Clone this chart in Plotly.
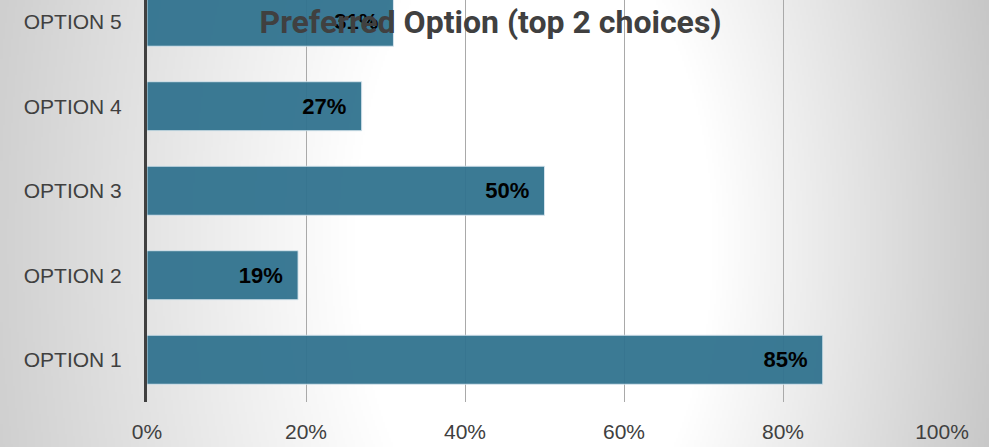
import base64
import struct
import zlib

import numpy as np
import plotly.graph_objects as go

# ---- data -------------------------------------------------------------
categories = ["OPTION 1", "OPTION 2", "OPTION 3", "OPTION 4", "OPTION 5"]
shares = [85, 19, 50, 27, 31]          # percent of respondents
x_ticks = [0, 20, 40, 60, 80, 100]
x_tick_labels = ["0%", "20%", "40%", "60%", "80%", "100%"]
title_text = "Preferred Option (top 2 choices)"

W, H = 989, 447


# ---- soft white-centred grey backdrop, encoded as a PNG ----------------
def backdrop_png(w, h, scale=2):
    pw, ph = w // scale, h // scale
    yy, xx = np.mgrid[0:ph, 0:pw].astype(float)
    xx *= scale
    yy *= scale
    cx, cy = 532.0, 240.0
    dx = xx - cx
    dy = (yy - cy) * 0.55
    d = np.sqrt(dx ** 2 + dy ** 2)
    slope = np.where(dx < 0, 0.13, 0.19)
    v = 255.0 - np.clip(d - 180.0, 0, None) * slope
    v = np.clip(v, 190, 255).astype(np.uint8)
    rows = b"".join(b"\x00" + bytes(np.repeat(r, 3)) for r in v)

    def chunk(tag, data):
        c = tag + data
        return struct.pack(">I", len(data)) + c + struct.pack(">I", zlib.crc32(c) & 0xFFFFFFFF)

    png = b"\x89PNG\r\n\x1a\n"
    png += chunk(b"IHDR", struct.pack(">IIBBBBB", pw, ph, 8, 2, 0, 0, 0))
    png += chunk(b"IDAT", zlib.compress(rows, 9))
    png += chunk(b"IEND", b"")
    return "data:image/png;base64," + base64.b64encode(png).decode()


# ---- figure -----------------------------------------------------------
ML, MR, MT, MB = 147, 47, 0, 45
PW, PH = W - ML - MR, H - MT - MB
bar_color = "#31738f"
tick_font = dict(family="Liberation Sans, Arial, sans-serif", size=21, color="#404040")

fig = go.Figure()
fig.add_trace(
    go.Bar(
        y=categories,
        x=shares,
        orientation="h",
        width=0.58,
        marker=dict(color=bar_color, opacity=0.95,
                    line=dict(color="rgba(215,230,238,0.9)", width=1)),
        # value label at the inside end of each bar, padded from the bar end
        texttemplate="<b>%{x}%</b>\u00a0\u00a0",
        textposition="inside",
        insidetextanchor="end",
        textangle=0,
        constraintext="none",
        insidetextfont=dict(family="Liberation Sans, Arial, sans-serif", size=22, color="#000000"),
        hoverinfo="skip",
    )
)

fig.update_layout(
    width=W, height=H,
    margin=dict(l=ML, r=MR, t=MT, b=MB),
    paper_bgcolor="rgba(0,0,0,0)",
    plot_bgcolor="rgba(0,0,0,0)",
    showlegend=False,
    uniformtext=dict(mode=False),
    images=[dict(source=backdrop_png(W, H), xref="paper", yref="paper",
                 x=-ML / PW, y=1 + MT / PH,
                 sizex=W / PW, sizey=H / PH,
                 xanchor="left", yanchor="top", sizing="stretch", layer="below")],
    title=dict(
        text=f"<b>{title_text}</b>",
        x=0.496, xref="container", xanchor="center",
        y=1 - 22 / H, yref="container", yanchor="middle",
        font=dict(family="Roboto, sans-serif", size=32, color="#404040"),
    ),
    xaxis=dict(
        range=[0, 100], tickvals=x_ticks, ticktext=x_tick_labels,
        showgrid=True, gridcolor="#a9a9a9", gridwidth=1,
        zeroline=False, showline=False, ticks="",
        ticklabelstandoff=15,
        tickfont=tick_font,
        fixedrange=True,
    ),
    yaxis=dict(
        range=[-0.5, 4.257], showgrid=False, zeroline=False,
        showline=True, linecolor="#404040", linewidth=3,
        ticks="", ticklabelstandoff=18,
        tickfont=tick_font,
        fixedrange=True,
    ),
)

fig.write_html("out.html")
